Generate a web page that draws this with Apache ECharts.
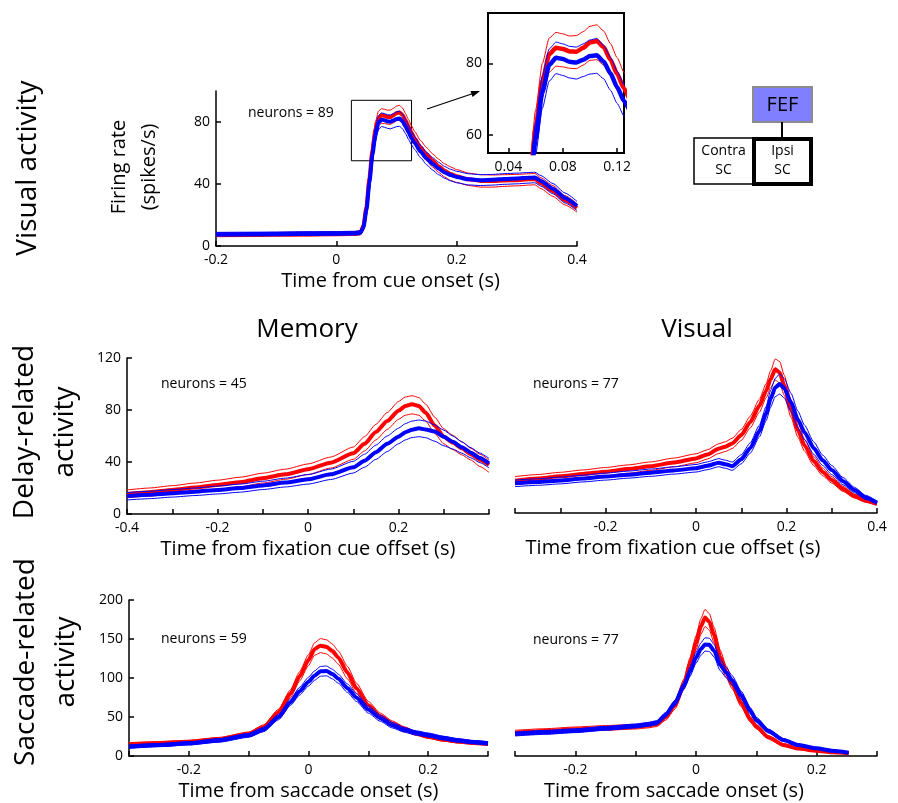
<!DOCTYPE html>
<html>
<head>
<meta charset="utf-8">
<script src="https://cdn.jsdelivr.net/npm/echarts@6/dist/echarts.min.js"></script>
<style>
  html, body { margin: 0; padding: 0; background: #fff; }
  #main { width: 898px; height: 803px; }
</style>
</head>
<body>
<div id="main"></div>
<script>
// ---- Visual activity (cue onset) ----
var visX = [-0.2, -0.15, -0.1, -0.05, 0, 0.03, 0.04, 0.045, 0.05, 0.055, 0.06, 0.065, 0.07, 0.075, 0.08, 0.085, 0.09, 0.095, 0.1, 0.105, 0.11, 0.115, 0.12, 0.125, 0.13, 0.14, 0.15, 0.16, 0.17, 0.18, 0.19, 0.2, 0.22, 0.24, 0.26, 0.28, 0.3, 0.32, 0.33, 0.34, 0.36, 0.38, 0.4];
var visRedMean = [7.2, 7.3, 7.5, 7.6, 7.8, 8, 8.5, 13, 25, 44, 62, 75, 82.5, 84.3, 84, 83.3, 83.2, 84.3, 85.8, 86.2, 84.5, 81, 77, 73, 69.5, 63.5, 59, 55, 51.5, 48.5, 46.5, 45, 43, 42, 42, 42.3, 42.5, 43, 43.2, 40.5, 35.5, 29.5, 24.5];
var visRedHi = [8.5, 8.6, 8.8, 8.9, 9.1, 9.3, 9.9, 15, 28, 48, 67, 80, 87, 88.6, 88.2, 87.6, 87.7, 88.8, 90.3, 90.7, 89, 85.5, 81.5, 77.5, 74, 68, 63.5, 59.5, 56, 53, 51, 49.3, 47, 46, 45.8, 46, 46.2, 46.6, 46.8, 44, 39, 32.5, 27.3];
var visRedLo = [6, 6.1, 6.3, 6.4, 6.6, 6.8, 7.2, 11, 22, 40, 57, 70.5, 77.5, 79.2, 79, 78.6, 78.5, 79.5, 80.8, 81, 79.5, 76.5, 72.5, 69, 65.5, 59.5, 55, 51, 47.5, 44.5, 42.3, 41, 39, 38, 38, 38.5, 38.8, 39.3, 39.5, 37, 32, 26.5, 21.8];
var visBlueMean = [7.6, 7.7, 7.8, 8, 8.1, 8.3, 8.6, 12, 23, 41, 59, 72, 79.5, 81.5, 81.2, 80.4, 80.2, 81, 82, 82.2, 80.5, 77.2, 73.3, 69.5, 66.5, 61, 56.5, 53, 50, 47.5, 45.8, 44.5, 43, 42.5, 42.8, 43.3, 43.6, 44, 44.2, 42, 37, 31, 25.8];
var visBlueHi = [8.8, 8.9, 9, 9.2, 9.3, 9.5, 9.9, 14, 26, 45, 63.5, 76.5, 84, 85.9, 85.4, 84.7, 84.5, 85.4, 86.5, 86.9, 85, 81.7, 77.8, 74, 70.5, 65, 60.5, 57, 54, 51.3, 49.5, 48.2, 46.6, 46, 46.2, 46.7, 47, 47.4, 47.6, 45.4, 40.3, 34.2, 28.8];
var visBlueLo = [6.4, 6.5, 6.6, 6.8, 6.9, 7.1, 7.3, 10, 20, 37, 54.5, 67.5, 75, 77.1, 76.6, 75.9, 75.6, 76.3, 77, 77.2, 75.7, 72.5, 68.8, 65.3, 62.3, 57, 52.5, 49, 46, 43.7, 42, 40.8, 39.4, 39, 39.3, 39.8, 40.1, 40.6, 40.8, 38.6, 33.7, 27.8, 22.8];
// zoomed window shown in the inset
var zoomX = [0.025, 0.125];
var zoomY = [55, 94];

// ---- Delay-related, memory ----
var memDelayX = [-0.4, -0.35, -0.3, -0.25, -0.2, -0.15, -0.1, -0.05, 0, 0.05, 0.1, 0.125, 0.15, 0.175, 0.2, 0.215, 0.23, 0.245, 0.26, 0.28, 0.3, 0.32, 0.34, 0.36, 0.38, 0.4];
var memDelayRedMean = [15.4, 16.8, 18.5, 20.3, 22.3, 24.5, 27.5, 30.5, 34.4, 39.5, 46.7, 54, 63, 71.5, 79.5, 83, 84.4, 83, 78, 68, 59.5, 55, 50.5, 46, 41.8, 37.7];
var memDelayRedHi = [18.5, 20, 21.8, 23.8, 26, 28.3, 31.4, 34.5, 38.5, 43.8, 51.5, 59.5, 69, 78, 86.5, 90, 91, 89.6, 84.5, 74.5, 65.5, 60.5, 55.5, 50.5, 46, 41.5];
var memDelayRedLo = [12.5, 13.8, 15.4, 17, 18.8, 21, 23.8, 26.7, 30.4, 35.3, 42, 48.5, 57, 65, 72.8, 76, 77, 76, 71.5, 62, 54, 49.5, 45.5, 41.5, 36.5, 32];
var memDelayBlueMean = [13.8, 14.8, 16, 17.2, 18.5, 20, 22, 24.2, 26.7, 30.5, 35.9, 41, 47.5, 54, 59.5, 62.8, 64.8, 65.9, 65, 63.5, 59.5, 55.5, 51.3, 47.2, 43, 39];
var memDelayBlueHi = [16.5, 17.5, 18.8, 20, 21.5, 23, 25.2, 27.6, 30.3, 34.5, 40.5, 46, 53, 60, 66, 69.5, 71.5, 72.3, 71.5, 68.5, 64.5, 60, 55.5, 51, 46.8, 42.8];
var memDelayBlueLo = [10.8, 11.8, 13, 14.2, 15.4, 16.8, 18.8, 20.8, 23, 26.5, 31.5, 36, 42, 48, 54, 57, 58.8, 59.5, 58.7, 56, 52.5, 50, 46.8, 43.2, 39.5, 35.5];

// ---- Delay-related, visual ----
var visDelayX = [-0.4, -0.35, -0.3, -0.25, -0.2, -0.15, -0.1, -0.05, 0, 0.025, 0.05, 0.065, 0.08, 0.1, 0.12, 0.14, 0.155, 0.165, 0.175, 0.185, 0.195, 0.21, 0.225, 0.24, 0.26, 0.28, 0.3, 0.325, 0.35, 0.375, 0.4];
var visDelayRedMean = [24.9, 26.5, 28.2, 30, 31.8, 33.8, 36, 38.8, 42, 45, 49.5, 51, 53.5, 60, 70, 82.5, 94, 103, 110.5, 108, 98, 80, 64, 52, 40, 31.5, 25.4, 18.5, 13, 9.5, 7];
var visDelayRedHi = [28, 29.6, 31.3, 33.1, 35, 37, 39.3, 42.2, 45.5, 48.6, 53.2, 54.8, 57.5, 64.2, 74.5, 87.5, 99.5, 109.5, 118.5, 116.5, 106, 87, 70, 56.5, 43.5, 34.5, 28, 20.5, 14.6, 10.8, 8];
var visDelayRedLo = [21.8, 23.4, 25.1, 26.9, 28.7, 30.6, 32.8, 35.5, 38.6, 41.5, 45.8, 47.3, 49.6, 55.8, 65.5, 77.5, 88.5, 96.5, 102.3, 100, 90.5, 73.5, 58.5, 47.5, 36.5, 28.6, 23, 16.6, 11.5, 8.3, 6];
var visDelayBlueMean = [22.8, 23.8, 25, 26.5, 28, 29.5, 31, 32.7, 34.4, 36.3, 38.7, 37.5, 36, 41.3, 50, 63, 76.5, 88, 96.5, 99.2, 96, 85, 72, 62, 50, 40.5, 33, 24.5, 17.7, 12, 7.9];
var visDelayBlueHi = [25.3, 26.3, 27.6, 29.1, 30.7, 32.2, 33.8, 35.5, 37.3, 39.3, 41.8, 40.6, 39.2, 44.8, 54, 67.5, 82, 94.5, 103.5, 107, 103.5, 92, 78.5, 67.5, 54.8, 44.5, 36.5, 27.3, 19.8, 13.6, 9];
var visDelayBlueLo = [20.3, 21.3, 22.4, 23.9, 25.3, 26.8, 28.2, 29.9, 31.5, 33.3, 35.6, 34.4, 32.8, 37.8, 46, 58.5, 71, 81.5, 89.5, 91.5, 88.5, 78, 65.5, 56.5, 45.2, 36.5, 29.5, 21.7, 15.6, 10.4, 6.8];

// ---- Saccade-related, memory ----
var memSacX = [-0.3, -0.25, -0.2, -0.15, -0.1, -0.075, -0.05, -0.03, -0.015, 0, 0.01, 0.02, 0.03, 0.04, 0.05, 0.065, 0.08, 0.1, 0.12, 0.14, 0.16, 0.18, 0.2, 0.225, 0.25, 0.275, 0.3];
var memSacRedMean = [15, 16.5, 18, 21.5, 28.2, 37, 56, 80, 102, 123, 137, 141.5, 140, 134.5, 126, 107, 87, 65, 51, 41.5, 34.5, 29, 24.8, 21, 18.5, 16.8, 15.4];
var memSacRedHi = [17.1, 18.6, 20.2, 23.8, 30.8, 40, 60, 85, 108, 130, 145, 150.5, 149, 143.5, 134.5, 115, 93.5, 70, 55, 45, 37.5, 31.5, 27, 23, 20.3, 18.5, 17];
var memSacRedLo = [12.9, 14.4, 15.8, 19.2, 25.6, 34, 52, 75, 96, 116, 129, 132.5, 131, 125.5, 117.5, 99, 80.5, 60, 47, 38, 31.5, 26.5, 22.6, 19, 16.7, 15.1, 13.8];
var memSacBlueMean = [12, 14, 16.2, 20, 26.5, 34, 50, 69, 83, 95.3, 103, 108.5, 109, 105, 99, 87, 75, 59.5, 48.5, 39.5, 33.5, 29.5, 26.9, 23, 20, 17.8, 16.2];
var memSacBlueHi = [14.2, 16.1, 18.3, 22.3, 29, 36.8, 53.5, 73, 88, 101, 109, 114.8, 115.4, 111.2, 104.8, 92.5, 80, 64, 52.5, 43, 36.5, 32.3, 29.5, 25.4, 22.3, 20, 18.4];
var memSacBlueLo = [9.8, 11.9, 14.1, 17.7, 24, 31.2, 46.5, 65, 78, 89.6, 97, 102.3, 102.8, 98.9, 93.2, 81.5, 70, 55, 44.5, 36, 30.5, 26.8, 24.3, 20.6, 17.7, 15.6, 14];

// ---- Saccade-related, visual ----
var visSacX = [-0.3, -0.25, -0.2, -0.15, -0.1, -0.08, -0.065, -0.05, -0.035, -0.02, -0.01, 0, 0.008, 0.015, 0.022, 0.03, 0.04, 0.05, 0.06, 0.075, 0.09, 0.1, 0.12, 0.145, 0.17, 0.2, 0.225, 0.253];
var visSacRedMean = [29.9, 32, 34.2, 36, 37.6, 39, 41, 50, 65, 92, 118, 145, 166, 177.5, 172, 155, 127.4, 108, 92, 68, 47, 37.6, 24, 14.1, 9.5, 6.7, 4.8, 3.4];
var visSacRedHi = [33, 35, 37.2, 39, 40.6, 42, 44.3, 54, 70, 98.5, 126, 154, 176, 188, 182.5, 165, 136, 115.5, 98, 73, 50.5, 40.3, 26, 15.6, 10.7, 7.7, 5.6, 4.1];
var visSacRedLo = [26.8, 29, 31.2, 33, 34.6, 36, 37.8, 46, 60, 85.5, 110, 136, 156, 166, 161.5, 145, 119, 100.5, 86, 63, 43.5, 34.9, 22, 12.6, 8.3, 5.7, 4, 2.7];
var visSacBlueMean = [28.2, 30.3, 32.5, 35.5, 38.5, 40.5, 42.7, 53, 68, 90, 108, 126, 137, 143, 142.5, 135, 116.7, 107, 97, 78, 58, 46.2, 32, 20.5, 14, 9.8, 6.8, 4.3];
var visSacBlueHi = [30.7, 32.8, 35, 38, 41, 43, 45.3, 56, 71.5, 94.5, 114, 133, 145, 151.5, 151, 143, 124, 113.5, 103, 83, 62, 49.6, 34.5, 22.3, 15.4, 10.9, 7.7, 5];
var visSacBlueLo = [25.7, 27.8, 30, 33, 36, 38, 40.1, 50, 64.5, 85.5, 102, 119, 129, 134.5, 134, 127, 109.5, 100.5, 91, 73, 54, 42.8, 29.5, 18.7, 12.6, 8.7, 5.9, 3.6];

var neuronCounts = [89, 45, 77, 59, 77];

var FONT = '"Open Sans", "Noto Sans", sans-serif';
var RED = '#ff0000';
var BLUE = '#0000ff';

function line(idx, xs, ys, color, width) {
	return {
		type: 'line',
		xAxisIndex: idx,
		yAxisIndex: idx,
		data: xs.map(function (x, i) { return [x, ys[i]]; }),
		symbol: 'none',
		smooth: 0.2,
		smoothMonotone: 'x',
		clip: true,
		silent: true,
		lineStyle: { color: color, width: width },
		itemStyle: { color: color }
	};
}

// thin SE lines + thick mean, red first then blue on top
function panel(idx, xs, rHi, rMean, rLo, bHi, bMean, bLo, thick) {
	return [
		line(idx, xs, rHi, RED, 1),
		line(idx, xs, rLo, RED, 1),
		line(idx, xs, rMean, RED, thick),
		line(idx, xs, bHi, BLUE, 1),
		line(idx, xs, bLo, BLUE, 1),
		line(idx, xs, bMean, BLUE, thick)
	];
}

function xAx(idx, min, max, interval, labels, name, namePad) {
	return {
		type: 'value', gridIndex: idx, min: min, max: max, interval: interval,
		axisLine: { onZero: false, lineStyle: { color: '#000', width: 1.5 } },
		axisTick: { inside: true, length: 5, lineStyle: { color: '#000', width: 1.5 } },
		axisLabel: { color: '#000', fontFamily: FONT, fontSize: 14, margin: 7, customValues: labels },
		splitLine: { show: false },
		name: name, nameLocation: 'middle', nameGap: 25,
		nameTextStyle: { color: '#000', fontFamily: FONT, fontSize: 20, padding: namePad || 0 }
	};
}

function yAx(idx, min, max, interval, labels, visible) {
	return {
		type: 'value', gridIndex: idx, min: min, max: max, interval: interval, show: visible,
		axisLine: { onZero: false, lineStyle: { color: '#000', width: 1.5 } },
		axisTick: { inside: true, length: 5, lineStyle: { color: '#000', width: 1.5 }, customValues: labels },
		axisLabel: { color: '#000', fontFamily: FONT, fontSize: 14, margin: 6, customValues: labels },
		splitLine: { show: false }
	};
}

function text(x, y, str, size, opts) {
	opts = opts || {};
	return {
		type: 'text', x: x, y: y, rotation: opts.rot || 0, silent: true,
		style: {
			text: str, fill: '#000', font: size + 'px ' + FONT,
			align: opts.align || 'center', verticalAlign: 'middle',
			textAlign: opts.align || 'center', textVerticalAlign: 'middle',
			lineHeight: opts.lh || size
		}
	};
}

var chart = echarts.init(document.getElementById('main'), null, { renderer: 'canvas' });

var series = [].concat(
	panel(0, visX, visRedHi, visRedMean, visRedLo, visBlueHi, visBlueMean, visBlueLo, 4),
	panel(1, visX, visRedHi, visRedMean, visRedLo, visBlueHi, visBlueMean, visBlueLo, 4.5),
	panel(2, memDelayX, memDelayRedHi, memDelayRedMean, memDelayRedLo, memDelayBlueHi, memDelayBlueMean, memDelayBlueLo, 4),
	panel(3, visDelayX, visDelayRedHi, visDelayRedMean, visDelayRedLo, visDelayBlueHi, visDelayBlueMean, visDelayBlueLo, 4),
	panel(4, memSacX, memSacRedHi, memSacRedMean, memSacRedLo, memSacBlueHi, memSacBlueMean, memSacBlueLo, 4),
	panel(5, visSacX, visSacRedHi, visSacRedMean, visSacRedLo, visSacBlueHi, visSacBlueMean, visSacBlueLo, 4)
);

// box marking the zoomed window on the main visual panel
series[0].markArea = {
	silent: true,
	itemStyle: { color: 'rgba(0,0,0,0)', borderColor: '#000', borderWidth: 1 },
	data: [[{ coord: [zoomX[0], zoomY[0]] }, { coord: [zoomX[1], zoomY[1]] }]]
};

var option = {
	backgroundColor: '#ffffff',
	animation: false,
	grid: [
		{ left: 216, top: 91, width: 361, height: 155, outerBoundsMode: 'none' },
		{ left: 488, top: 13, width: 136, height: 140, outerBoundsMode: 'none', show: true, borderColor: '#000', borderWidth: 2, backgroundColor: '#fff' },
		{ left: 127, top: 358, width: 362, height: 156, outerBoundsMode: 'none' },
		{ left: 515, top: 357, width: 362, height: 156, outerBoundsMode: 'none' },
		{ left: 129, top: 600, width: 359, height: 156, outerBoundsMode: 'none' },
		{ left: 515, top: 600, width: 362, height: 156, outerBoundsMode: 'none' }
	],
	xAxis: [
		xAx(0, -0.2, 0.4, 0.2, [-0.2, 0, 0.2, 0.4], 'Time from cue onset (s)', [0, 12, 0, 0]),
		(function () {
			var a = xAx(1, zoomX[0], zoomX[1], 0.04, [0.04, 0.08, 0.12], '');
			a.axisTick.customValues = [0.04, 0.08, 0.12];
			a.axisLine.lineStyle.width = 2;
			return a;
		})(),
		xAx(2, -0.4, 0.4, 0.1, [-0.4, -0.2, 0, 0.2], 'Time from fixation cue offset (s)'),
		xAx(3, -0.4, 0.4, 0.1, [-0.2, 0, 0.2, 0.4], 'Time from fixation cue offset (s)', [0, 46, 0, 0]),
		xAx(4, -0.3, 0.3, 0.1, [-0.2, 0, 0.2], 'Time from saccade onset (s)'),
		xAx(5, -0.3, 0.3, 0.1, [-0.2, 0, 0.2], 'Time from saccade onset (s)', [0, 44, 0, 0])
	],
	yAxis: [
		yAx(0, 0, 100, 40, [0, 40, 80], true),
		(function () {
			var a = yAx(1, zoomY[0], zoomY[1], 20, [60, 80], true);
			a.axisLine.lineStyle.width = 2;
			return a;
		})(),
		yAx(2, 0, 120, 40, [0, 40, 80, 120], true),
		yAx(3, 0, 120, 40, [0, 40, 80, 120], false),
		yAx(4, 0, 200, 50, [0, 50, 100, 150, 200], true),
		yAx(5, 0, 200, 50, [0, 50, 100, 150, 200], false)
	],
	graphic: [
		text(28, 168, 'Visual activity', 28, { rot: Math.PI / 2 }),
		text(134, 167, 'Firing rate\n(spikes/s)', 20, { rot: Math.PI / 2, lh: 30 }),
		text(45, 432, 'Delay-related\nactivity', 28, { rot: Math.PI / 2, lh: 40 }),
		text(46, 662, 'Saccade-related\nactivity', 28, { rot: Math.PI / 2, lh: 40 }),
		text(307, 330, 'Memory', 26),
		text(697, 330, 'Visual', 26),
		text(248, 113, 'neurons = ' + neuronCounts[0], 14, { align: 'left' }),
		text(161, 384, 'neurons = ' + neuronCounts[1], 14, { align: 'left' }),
		text(533, 384, 'neurons = ' + neuronCounts[2], 14, { align: 'left' }),
		text(161, 639, 'neurons = ' + neuronCounts[3], 14, { align: 'left' }),
		text(533, 640, 'neurons = ' + neuronCounts[4], 14, { align: 'left' }),
		// arrow to inset
		{ type: 'line', silent: true, shape: { x1: 427, y1: 109, x2: 473, y2: 93.5 }, style: { stroke: '#000', lineWidth: 1.2 } },
		{ type: 'polygon', silent: true, shape: { points: [[480, 91], [470.5, 91], [472.6, 97]] }, style: { fill: '#000' } },
		// FEF -> SC diagram
		{ type: 'rect', silent: true, shape: { x: 753, y: 87, width: 59, height: 35 }, style: { fill: '#7f7fff', stroke: '#8c8c8c', lineWidth: 2 } },
		text(782.5, 105, 'FEF', 20),
		{ type: 'line', silent: true, shape: { x1: 782, y1: 122, x2: 782, y2: 138 }, style: { stroke: '#000', lineWidth: 2 } },
		{ type: 'rect', silent: true, shape: { x: 694, y: 138, width: 59, height: 46 }, style: { fill: '#fff', stroke: '#000', lineWidth: 1.5 } },
		{ type: 'rect', silent: true, shape: { x: 754, y: 139, width: 57, height: 45 }, style: { fill: '#fff', stroke: '#000', lineWidth: 4 } },
		text(723.5, 161, 'Contra\nSC', 14, { lh: 19 }),
		text(782.5, 161, 'Ipsi\nSC', 14, { lh: 19 })
	],
	series: series
};

chart.setOption(option);
</script>
</body>
</html>
